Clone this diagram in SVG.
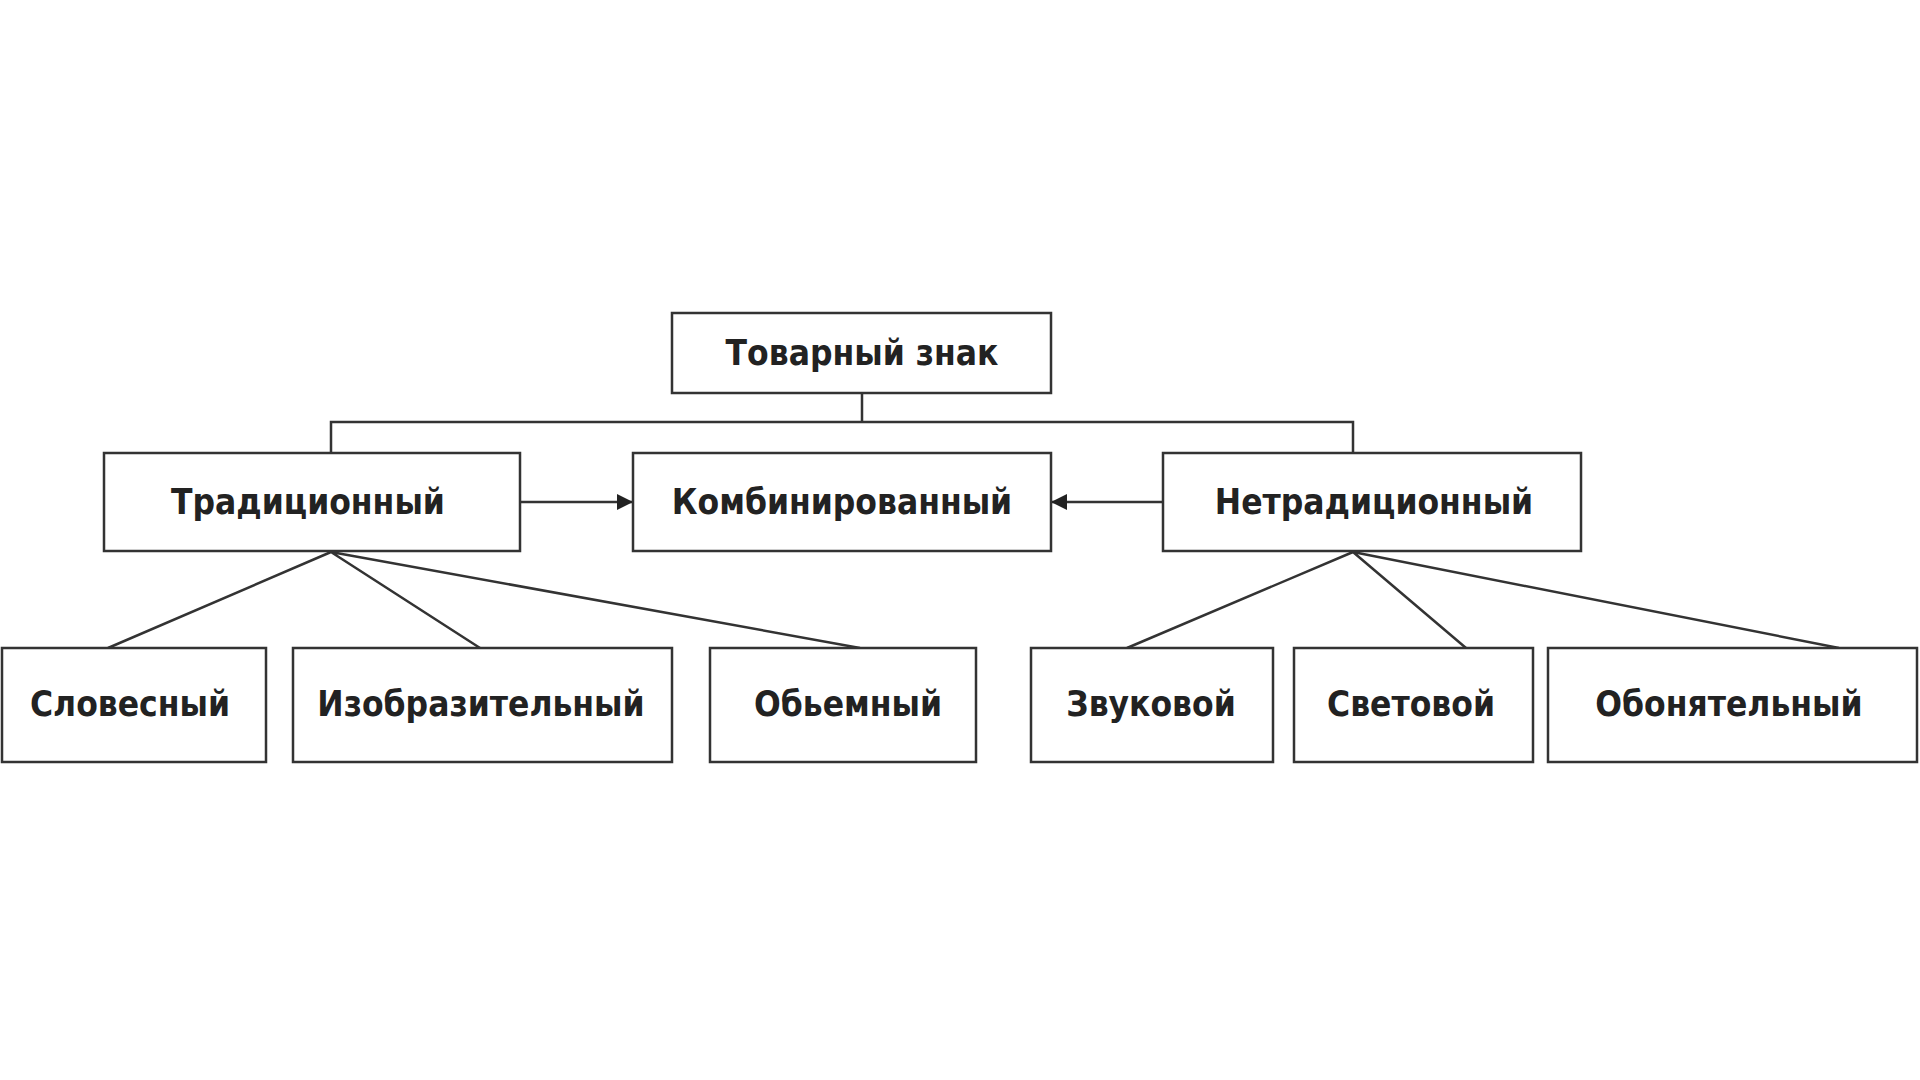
<svg xmlns="http://www.w3.org/2000/svg" width="1920" height="1080" viewBox="0 0 1920 1080">
<style>
rect{fill:#fff;stroke:#333;stroke-width:2.5}
text{font-family:"DejaVu Sans Condensed","DejaVu Sans",sans-serif;font-weight:bold;font-size:35px;fill:#222;text-anchor:middle;dominant-baseline:central}
.c{stroke:#333;stroke-width:2.5;fill:none}
</style>
<defs><marker id="a" viewBox="0 0 10 10" refX="10" refY="5" markerWidth="8" markerHeight="8" orient="auto" markerUnits="userSpaceOnUse"><path d="M0,0L10,5L0,10z" fill="#222"/></marker>
<marker id="ar" viewBox="0 0 10 10" refX="10" refY="5" markerWidth="22" markerHeight="16" orient="auto" markerUnits="userSpaceOnUse"><path d="M0,0L10,5L0,10z" fill="#222"/></marker></defs>
<rect width="1920" height="1080" style="fill:#fff;stroke:none"/>
<g id="connectors">
<path class="c" d="M862,393V422M331,453V422H1353V453"/>
<path class="c" d="M520,502H633" marker-end="url(#ar)"/>
<path class="c" d="M1163,502H1051" marker-end="url(#ar)"/>
<path class="c" d="M331,552L108,648M331,552L480,648M331,552L860,648"/>
<path class="c" d="M1353,552L1127,648M1353,552L1466,648M1353,552L1839,648"/>
</g>
<g id="n0"><rect x="672" y="313" width="379" height="80"/><text x="862" y="353">Товарный знак</text></g>
<g id="n1"><rect x="104" y="453" width="416" height="98"/><text x="308" y="502">Традиционный</text></g>
<g id="n2"><rect x="633" y="453" width="418" height="98"/><text x="842" y="502">Комбинированный</text></g>
<g id="n3"><rect x="1163" y="453" width="418" height="98"/><text x="1374" y="502">Нетрадиционный</text></g>
<g id="n4"><rect x="2" y="648" width="264" height="114"/><text x="130" y="704">Словесный</text></g>
<g id="n5"><rect x="293" y="648" width="379" height="114"/><text x="481" y="704">Изобразительный</text></g>
<g id="n6"><rect x="710" y="648" width="266" height="114"/><text x="848" y="704">Обьемный</text></g>
<g id="n7"><rect x="1031" y="648" width="242" height="114"/><text x="1151" y="704">Звуковой</text></g>
<g id="n8"><rect x="1294" y="648" width="239" height="114"/><text x="1411" y="704">Световой</text></g>
<g id="n9"><rect x="1548" y="648" width="369" height="114"/><text x="1729" y="704">Обонятельный</text></g>
</svg>
